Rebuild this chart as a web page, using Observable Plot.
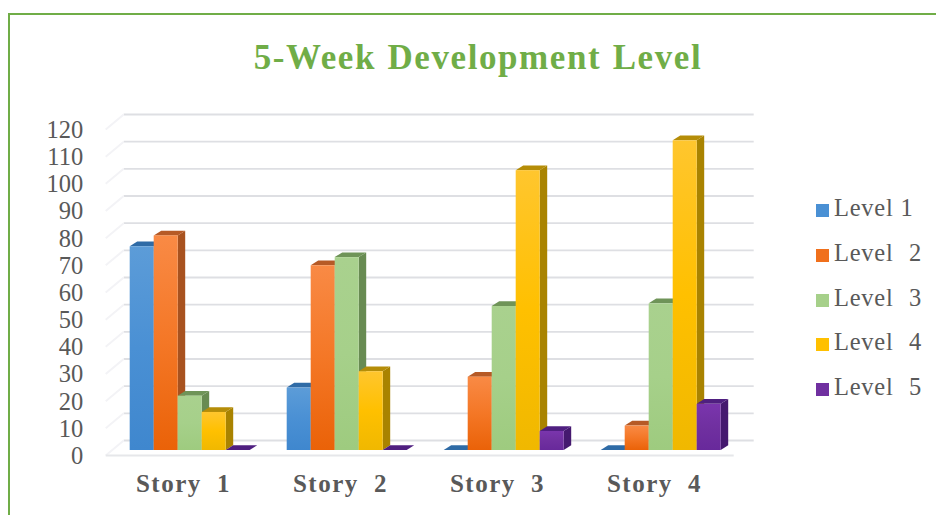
<!DOCTYPE html>
<html>
<head>
<meta charset="utf-8">
<script src="https://cdn.jsdelivr.net/npm/d3@7"></script>
<script src="https://cdn.jsdelivr.net/npm/@observablehq/plot@0.6"></script>
<style>
  html, body { margin: 0; padding: 0; width: 936px; height: 515px; overflow: hidden; background: #fff; }
  #frame { position: absolute; left: 8px; top: 13px; width: 960px; height: 540px; border: 2.5px solid #70ad47; box-sizing: border-box; }
  #title { position: absolute; left: 0; top: 38px; width: 956px; height: 40px; line-height: 40px; text-align: center;
           font: bold 35px "Liberation Serif", serif; color: #70ad47; letter-spacing: 1.6px; word-spacing: 1px; }
  #chart { position: absolute; left: 0; top: 90px; }
  #chart text { word-spacing: 0.3em; }
  #chart g[aria-label="fx-axis tick label"] text { letter-spacing: 1.5px; }
  #legend { position: absolute; left: 816px; top: 186px; font: 24.5px "Liberation Serif", serif; color: #595959; letter-spacing: 0.75px; }
  .row { height: 44.8px; line-height: 44.8px; white-space: nowrap; }
  .sw { display: inline-block; width: 13px; height: 13px; margin-right: 5px; vertical-align: -1px; }
</style>
</head>
<body>
<div id="frame"></div>
<div id="title">5-Week Development Level</div>
<div id="chart"></div>
<div id="legend"></div>
<script>
const stories = ["Story 1", "Story 2", "Story 3", "Story 4"];
const levels = ["Level 1", "Level 2", "Level 3", "Level 4", "Level 5"];
const level1 = [75, 23, 0, 0];
const level2 = [79, 68, 27, 9];
const level3 = [20, 71, 53, 54];
const level4 = [14, 29, 103, 114];
const level5 = [0, 0, 7, 17];
const yTicks = [0, 10, 20, 30, 40, 50, 60, 70, 80, 90, 100, 110, 120];

const series = [level1, level2, level3, level4, level5];
const rows = stories.flatMap((story, s) =>
  levels.map((level, l) => ({story, level, value: series[l][s], l})));

const gradients = [
  ["#5c9cd8", "#4a90d4", "#3f87ce"],
  ["#f98a45", "#f47726", "#ea6208"],
  ["#a9d18e", "#a6d08a", "#9ecb7f"],
  ["#ffc62e", "#ffc000", "#f0b800"],
  ["#7a35ad", "#7030a0", "#68299b"]
];
const sideColors = ["#2f699f", "#a8521f", "#688b52", "#a98300", "#45196f"];
const topColors = ["#2f6ba6", "#b65a26", "#6f9458", "#b58d08", "#4f1f80"];
const legendColors = ["#4a90d4", "#f0701c", "#a6d08a", "#ffc000", "#7030a0"];

const depthX = 7.5, depthY = 4.7;
const svgNS = "http://www.w3.org/2000/svg";

function cuboids(index, scales, values, dimensions, context, next) {
  const g = next(index, scales, values, dimensions, context);
  const rects = Array.from(g.querySelectorAll("rect"));
  rects.forEach((rect, k) => {
    const d = rows[index[k]];
    const x = +rect.getAttribute("x"), y = +rect.getAttribute("y");
    const w = +rect.getAttribute("width"), h = +rect.getAttribute("height");
    const side = document.createElementNS(svgNS, "polygon");
    side.setAttribute("points", `${x + w},${y} ${x + w + depthX},${y - depthY} ${x + w + depthX},${y + h - depthY} ${x + w},${y + h}`);
    side.setAttribute("fill", sideColors[d.l]);
    const top = document.createElementNS(svgNS, "polygon");
    top.setAttribute("points", `${x},${y} ${x + depthX},${y - depthY} ${x + w + depthX},${y - depthY} ${x + w},${y}`);
    top.setAttribute("fill", topColors[d.l]);
    rect.parentNode.insertBefore(side, rect);
    rect.parentNode.insertBefore(top, rect);
  });
  return g;
}

function wallLines(index, scales, values, dimensions, context, next) {
  const g = next(index, scales, values, dimensions, context);
  Array.from(g.querySelectorAll("line")).forEach((line) => {
    const x = +line.getAttribute("x1"), y = +line.getAttribute("y1");
    const slant = document.createElementNS(svgNS, "line");
    slant.setAttribute("x1", x - 18); slant.setAttribute("y1", y + 15);
    slant.setAttribute("x2", x); slant.setAttribute("y2", y);
    slant.setAttribute("stroke", "#f3f3f6"); slant.setAttribute("stroke-width", 2);
    g.appendChild(slant);
  });
  return g;
}

const firstStory = () => stories[0];

const chart = Plot.plot({
  width: 936,
  height: 425,
  marginTop: 34,
  marginBottom: 65,
  marginLeft: 128.3,
  marginRight: 213.2,
  style: {fontFamily: "'Liberation Serif', serif", color: "#595959", background: "transparent", overflow: "visible"},
  fx: {domain: stories, paddingInner: 0.225, paddingOuter: 0, label: null, axis: null},
  x: {domain: levels, padding: 0, axis: null, label: null},
  y: {domain: [0, 120], label: null, axis: null},
  color: {domain: levels, range: levels.map((_, i) => `url(#grad${i})`)},
  marks: [
    Plot.ruleY(yTicks, {fx: firstStory, dy: -10, insetLeft: -5.3, insetRight: -502.7, stroke: "#dedfe3", strokeWidth: 1.8, render: wallLines}),
    Plot.ruleY([0], {fx: firstStory, dy: 5, insetLeft: -23.3, insetRight: -482.7, stroke: "#e6e7ea", strokeWidth: 1.8}),
    Plot.barY(rows, {fx: "story", x: "level", y: "value", fill: "level", inset: 0, render: cuboids}),
    Plot.axisY(yTicks, {anchor: "left", tickSize: 0, tickPadding: 46.3, dy: 5.5, fontSize: 24.5, label: null, fill: "#595959"}),
    Plot.axisFx({anchor: "bottom", tickSize: 0, tickPadding: 24, dx: -7, fontSize: 25, fontWeight: "bold", label: null, fill: "#595959"})
  ]
});

const defs = d3.select(chart).insert("defs", ":first-child");
gradients.forEach((stops, i) => {
  const gr = defs.append("linearGradient").attr("id", `grad${i}`)
    .attr("x1", 0).attr("y1", 0).attr("x2", 0).attr("y2", 1);
  stops.forEach((c, j) => gr.append("stop").attr("offset", j / 2).attr("stop-color", c));
});
document.getElementById("chart").appendChild(chart);

const legend = d3.select("#legend");
levels.forEach((name, i) => {
  const row = legend.append("div").attr("class", "row");
  row.append("span").attr("class", "sw").style("background", legendColors[i]);
  row.append("span").style("word-spacing", i === 0 ? "0" : "0.35em").text(name);
});
</script>
</body>
</html>
